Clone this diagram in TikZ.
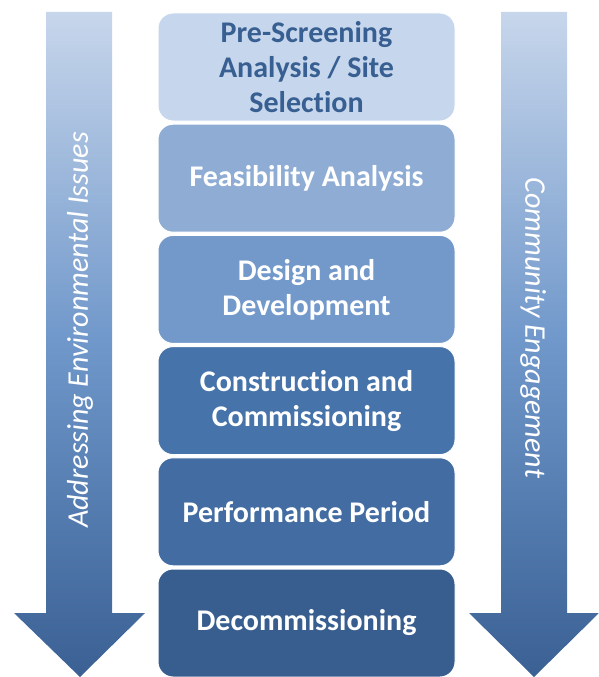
\documentclass[tikz,border=0pt]{standalone}
\usepackage{fontspec}
\setmainfont{Carlito}[Ligatures=NoCommon]
\usepackage{tikz}
\usepackage{color,xcolor}
\definecolor{arrtop}{HTML}{C7D6EB}
\definecolor{arrmid}{HTML}{6F97CA}
\definecolor{arrbot}{HTML}{3A6094}
\definecolor{sa}{HTML}{C6D6EC}
\definecolor{sb}{HTML}{8EACD4}
\definecolor{sc}{HTML}{7399CB}
\definecolor{sd}{HTML}{4673AA}
\definecolor{se}{HTML}{426CA2}
\definecolor{sf}{HTML}{385E8F}
\definecolor{dk}{HTML}{375F91}

\tikzset{
  stage/.style={draw=white,line width=1pt,rounded corners=15pt,minimum width=297pt,
    minimum height=108pt,align=center,text=white,
    font=\bfseries\fontsize{30}{35}\selectfont},
  side/.style={text=white,font=\itshape\fontsize{30}{34}\selectfont}
}

\begin{document}
\begin{tikzpicture}[x=1pt,y=-1pt]
            \useasboundingbox (0,0) rectangle (599,677);
            \shade[top color=arrtop,bottom color=arrbot,middle color=arrmid] (46,12) -- (112,12) -- (112,613) -- (145,613) -- (80,677) -- (14,613) -- (46,613) -- cycle;
            \shade[top color=arrtop,bottom color=arrbot,middle color=arrmid] (501,12) -- (567,12) -- (567,613) -- (599,613) -- (534,677) -- (469,613) -- (501,613) -- cycle;
            \node[side,rotate=90] (env) at (80,330) {Addressing Environmental Issues};
            \node[side,rotate=-90] (com) at (533,328) {Community Engagement};
            \node[stage,fill=sa,text=dk] (pre) at (306.5,67) {Pre-Screening\\Analysis / Site\\Selection};
            \node[stage,fill=sb] (feas) at (306.5,178.2) {Feasibility Analysis};
            \node[stage,fill=sc] (des) at (306.5,289.4) {Design and\\Development};
            \node[stage,fill=sd] (cons) at (306.5,400.6) {Construction and\\Commissioning};
            \node[stage,fill=se] (perf) at (306.5,511.8) {Performance Period};
            \node[stage,fill=sf] (decom) at (306.5,623) {Decommissioning};
          \end{tikzpicture}
\end{document}
